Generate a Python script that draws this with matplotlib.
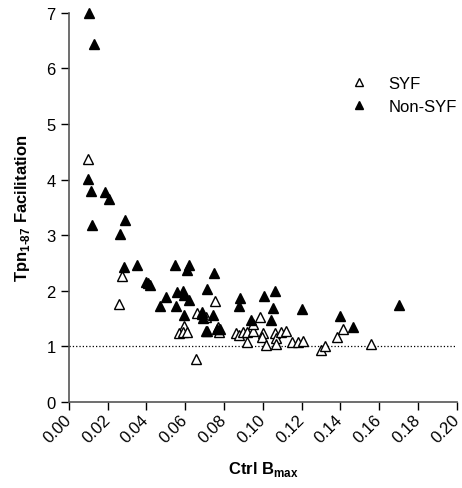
import matplotlib
matplotlib.use("Agg")
import matplotlib.pyplot as plt

plt.rcParams['font.family'] = ['Liberation Sans', 'DejaVu Sans']
plt.rcParams['mathtext.fontset'] = 'custom'
plt.rcParams['mathtext.rm'] = 'Liberation Sans'
plt.rcParams['mathtext.bf'] = 'Liberation Sans:bold'

#Data
syf_x = [0.0100, 0.0275, 0.0256, 0.0655, 0.0658, 0.0753, 0.0593, 0.0569, 0.0589, 0.0607,
         0.0708, 0.0773, 0.0767, 0.0861, 0.0878, 0.0899, 0.0919, 0.0920, 0.0947, 0.0950,
         0.0985, 0.1002, 0.0996, 0.1014, 0.1062, 0.1070, 0.1066, 0.1091, 0.1118, 0.1148,
         0.1179, 0.1208, 0.1297, 0.1320, 0.1383, 0.1414, 0.1557]
syf_y = [4.37, 2.26, 1.76, 0.77, 1.60, 1.82, 1.37, 1.24, 1.25, 1.25,
         1.53, 1.25, 1.34, 1.23, 1.20, 1.25, 1.07, 1.25, 1.28, 1.40,
         1.52, 1.24, 1.16, 1.02, 1.24, 1.15, 1.04, 1.26, 1.27, 1.07,
         1.07, 1.10, 0.93, 1.01, 1.17, 1.31, 1.03]

nonsyf_x = [0.0105, 0.0129, 0.0100, 0.0112, 0.0187, 0.0206, 0.0121, 0.0265, 0.0289, 0.0282,
            0.0353, 0.0400, 0.0410, 0.0420, 0.0471, 0.0500, 0.0548, 0.0555, 0.0552, 0.0589,
            0.0595, 0.0594, 0.0620, 0.0608, 0.0618, 0.0685, 0.0690, 0.0688, 0.0711, 0.0705,
            0.0714, 0.0747, 0.0743, 0.0764, 0.0778, 0.0881, 0.0877, 0.0937, 0.1008, 0.1060,
            0.1053, 0.1040, 0.1201, 0.1399, 0.1467, 0.1704]
nonsyf_y = [7.00, 6.44, 4.01, 3.79, 3.78, 3.65, 3.18, 3.02, 3.28, 2.43,
            2.46, 2.15, 2.14, 2.10, 1.73, 1.88, 2.46, 1.98, 1.72, 2.00,
            1.92, 1.56, 2.47, 2.37, 1.84, 1.61, 1.51, 1.57, 2.03, 1.28,
            1.27, 2.32, 1.56, 1.31, 1.30, 1.87, 1.73, 1.47, 1.90, 1.99,
            1.68, 1.47, 1.67, 1.54, 1.34, 1.74]

x_ticks = [0.00, 0.02, 0.04, 0.06, 0.08, 0.10, 0.12, 0.14, 0.16, 0.18, 0.20]
y_ticks = [0, 1, 2, 3, 4, 5, 6, 7]

#Plotting
fig = plt.figure(figsize=(4.62, 4.89), dpi=100)
ax = fig.add_axes([0.149, 0.1765, 0.84, 0.795])

ax.plot(syf_x, syf_y, '^', mfc='white', mec='black', mew=1.0, ms=7.5,
        linestyle='none', label='SYF', clip_on=False, zorder=3)
ax.plot(nonsyf_x, nonsyf_y, '^', mfc='black', mec='black', ms=7.5,
        linestyle='none', label='Non-SYF', clip_on=False, zorder=3)
ax.axhline(1, color='black', linestyle=':', linewidth=0.9, zorder=1)

ax.set_xlim(0, 0.2)
ax.set_ylim(0, 7)
ax.set_xticks(x_ticks)
ax.set_xticklabels(['%.2f' % v for v in x_ticks], rotation=45, ha='right',
                   va='center', rotation_mode='anchor')
ax.set_yticks(y_ticks)
ax.tick_params(labelsize=12, direction='out', length=6, width=1, colors='black')
ax.tick_params(axis='x', pad=5)

for s in ['top', 'right']:
    ax.spines[s].set_visible(False)
for s in ['left', 'bottom']:
    ax.spines[s].set_color('#555555')
    ax.spines[s].set_linewidth(1.2)

ax.set_xlabel(r'Ctrl B$_{\mathbf{max}}$', fontsize=12, fontweight='bold', labelpad=10)
ax.set_ylabel('Tpn$_{\\mathbf{1\u201087}}$ Facilitation', fontsize=12, fontweight='bold',
              labelpad=10)

ax.legend(loc='upper left', bbox_to_anchor=(0.665, 0.877), frameon=False, fontsize=12,
          handletextpad=0.8, labelspacing=0.5, markerscale=0.8)

fig.savefig('out.png', dpi=100)
